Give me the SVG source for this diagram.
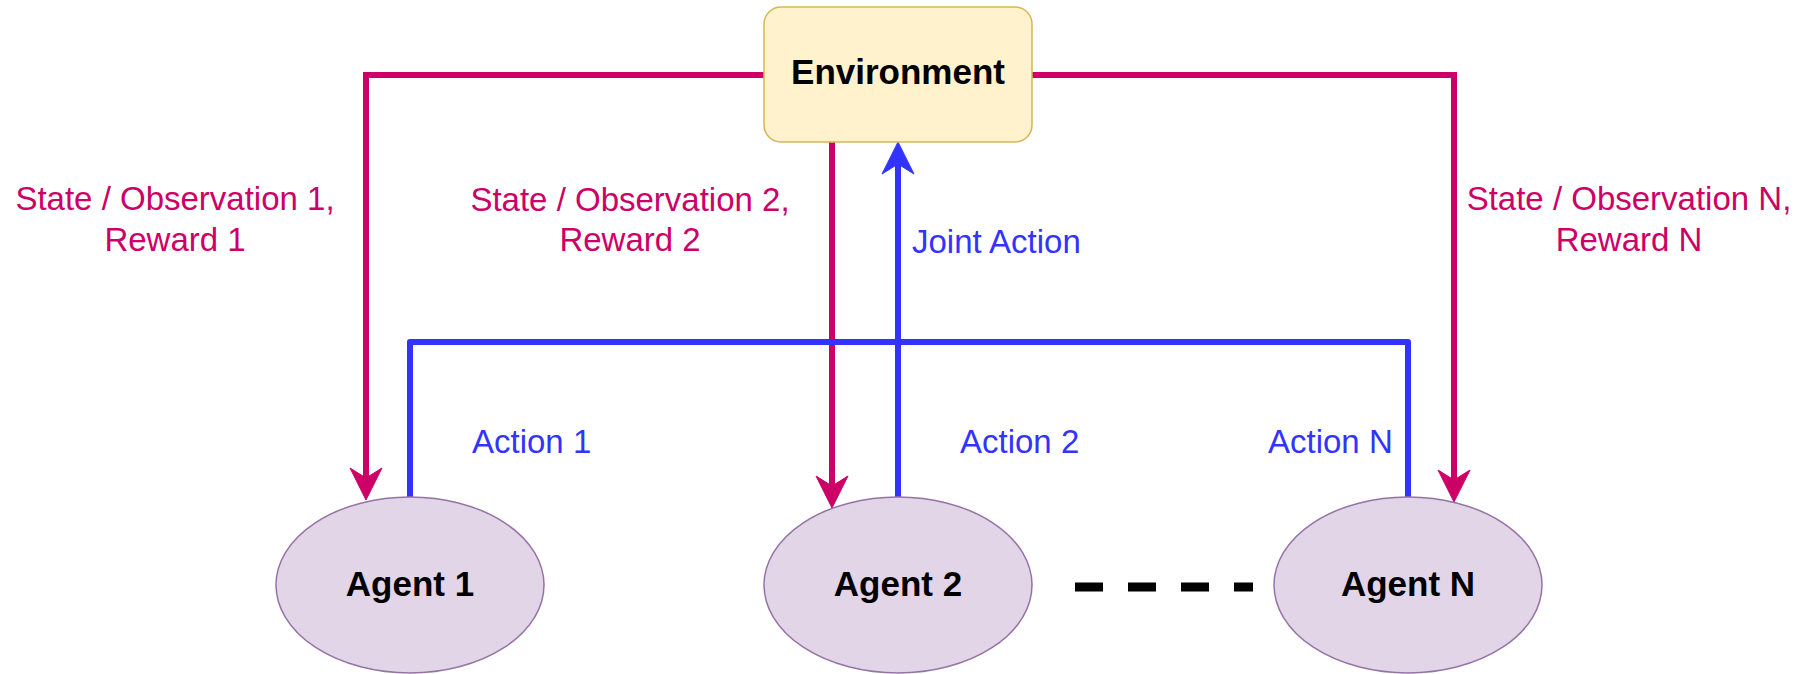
<svg xmlns="http://www.w3.org/2000/svg" width="1801" height="674" viewBox="0 0 1801 674">
  <style>
    .label { font-family: "Liberation Sans", Arial, Helvetica, sans-serif; font-size: 33px; }
    .obs { fill: #CC0066; text-anchor: middle; }
    .act { fill: #3333FF; }
    .title { font-family: "Liberation Sans", Arial, Helvetica, sans-serif; font-size: 35px; font-weight: bold; fill: #000000; text-anchor: middle; }
    .agent { fill: #e1d5e7; stroke: #9673a6; stroke-width: 1.5; }
    .env { fill: #fff2cc; stroke: #d6b656; stroke-width: 1.5; }
    .flow-obs { fill: none; stroke: #CC0066; stroke-width: 6; stroke-linejoin: miter; }
    .flow-act { fill: none; stroke: #3333FF; stroke-width: 6; stroke-linejoin: round; }
    .dots { fill: none; stroke: #000000; stroke-width: 9; stroke-dasharray: 28 25; }
  </style>
  <defs>
    <marker id="head-obs" markerUnits="userSpaceOnUse" markerWidth="34" markerHeight="34" viewBox="0 -17 34 34" refX="10" refY="0" orient="auto" overflow="visible">
      <path d="M32,0 L0,-16 L10,0 L0,16 Z" fill="#CC0066" stroke="#CC0066" stroke-width="1"/>
    </marker>
    <marker id="head-act" markerUnits="userSpaceOnUse" markerWidth="34" markerHeight="34" viewBox="0 -17 34 34" refX="10" refY="0" orient="auto" overflow="visible">
      <path d="M32,0 L0,-16 L10,0 L0,16 Z" fill="#3333FF" stroke="#3333FF" stroke-width="1"/>
    </marker>
  </defs>

  <rect width="1801" height="674" fill="#ffffff"/>

  <!-- connectors -->
  <g id="connectors">
    <path class="flow-obs" d="M764,75 H366 V478" marker-end="url(#head-obs)"/>
    <path class="flow-obs" d="M832,142 V486" marker-end="url(#head-obs)"/>
    <path class="flow-obs" d="M1032,75 H1454 V480" marker-end="url(#head-obs)"/>
    <path class="flow-act" d="M410,497 V342 H1408 V497"/>
    <path class="flow-act" d="M898,497 V164" marker-end="url(#head-act)"/>
    <line class="dots" x1="1075" y1="587" x2="1253" y2="587"/>

    <text class="label obs" x="175" y="210">State / Observation 1,</text>
    <text class="label obs" x="175" y="251">Reward 1</text>
    <text class="label obs" x="630" y="211">State / Observation 2,</text>
    <text class="label obs" x="630" y="251">Reward 2</text>
    <text class="label obs" x="1629" y="210">State / Observation N,</text>
    <text class="label obs" x="1629" y="251">Reward N</text>
    <text class="label act" x="912" y="253">Joint Action</text>
    <text class="label act" x="472" y="453">Action 1</text>
    <text class="label act" x="960" y="453">Action 2</text>
    <text class="label act" x="1268" y="453">Action N</text>
  </g>

  <!-- environment -->
  <g id="environment">
    <rect class="env" x="764" y="7" width="268" height="135" rx="17" ry="17"/>
    <text class="title" x="898" y="84">Environment</text>
  </g>

  <!-- agents -->
  <g id="agent-1">
    <ellipse class="agent" cx="410" cy="585" rx="134" ry="88"/>
    <text class="title" x="410" y="596">Agent 1</text>
  </g>
  <g id="agent-2">
    <ellipse class="agent" cx="898" cy="585" rx="134" ry="88"/>
    <text class="title" x="898" y="596">Agent 2</text>
  </g>
  <g id="agent-n">
    <ellipse class="agent" cx="1408" cy="585" rx="134" ry="88"/>
    <text class="title" x="1408" y="596">Agent N</text>
  </g>
</svg>
